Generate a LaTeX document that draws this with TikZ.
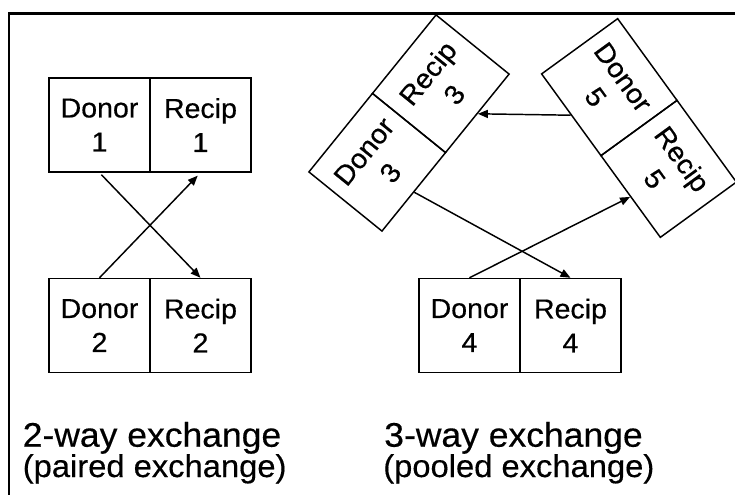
\documentclass[tikz,border=0pt]{standalone}
\usepackage{fontspec}
\setmainfont{Liberation Sans}[FakeStretch=1.04, FakeBold=0.4]
\usetikzlibrary{arrows.meta}
\begin{document}
\begin{tikzpicture}[x=0.75pt, y=-0.75pt,
  half/.style={draw, line width=1.1pt, minimum width=75.75pt, minimum height=70.5pt,
    inner sep=0pt, align=center, font=\fontsize{20.6}{25.5}\selectfont},
  flow/.style={line width=1.1pt, -{Triangle[length=7.5pt, width=6pt]}},
  headline/.style={anchor=base west, inner sep=0pt, font=\fontsize{25.6}{30}\selectfont},
  subline/.style={anchor=base west, inner sep=0pt, font=\fontsize{23.6}{28}\selectfont},
  frameline/.style={line width=2pt}]
\useasboundingbox (0,0) rectangle (735,494);

% frame along the top and left edges
\draw[frameline] (9,500) -- (9,13.5) -- (740,13.5);

% 2-way exchange
\node[half] (d1) at (99.5,125) {Donor\\1};
\node[half] (r1) at (200.5,125) {Recip\\1};
\node[half] (d2) at (99.5,325.5) {Donor\\2};
\node[half] (r2) at (200.5,325.5) {Recip\\2};

% 3-way exchange
\node[half] (d4) at (469.5,325.5) {Donor\\4};
\node[half] (r4) at (570.5,325.5) {Recip\\4};
\begin{scope}[shift={(409,123)}, rotate=51, transform shape]
  \node[half] (d3) at (-50.5,0) {Donor\\3};
  \node[half] (r3) at (50.5,0) {Recip\\3};
\end{scope}
\begin{scope}[shift={(639,128)}, rotate=-54, transform shape]
  \node[half] (d5) at (-50.5,0) {Donor\\5};
  \node[half] (r5) at (50.5,0) {Recip\\5};
\end{scope}

% kidney flows
\draw[flow, shorten <=2pt] (d1.south) -- (r2.north);
\draw[flow, shorten >=3pt] (d2.north) -- (r1.south);
\draw[flow] (d3.south) -- (r4.north);
\draw[flow] (d4.north) -- (r5.south);
\draw[flow] (d5.south) -- (r3.south);

% captions
\node[headline] (t2) at (22.5,446.7) {2-way exchange};
\node[subline] (s2) at (22.5,477) {(paired exchange)};
\node[headline] (t3) at (384,446.7) {3-way exchange};
\node[subline] (s3) at (383,477) {(pooled exchange)};
\end{tikzpicture}
\end{document}
